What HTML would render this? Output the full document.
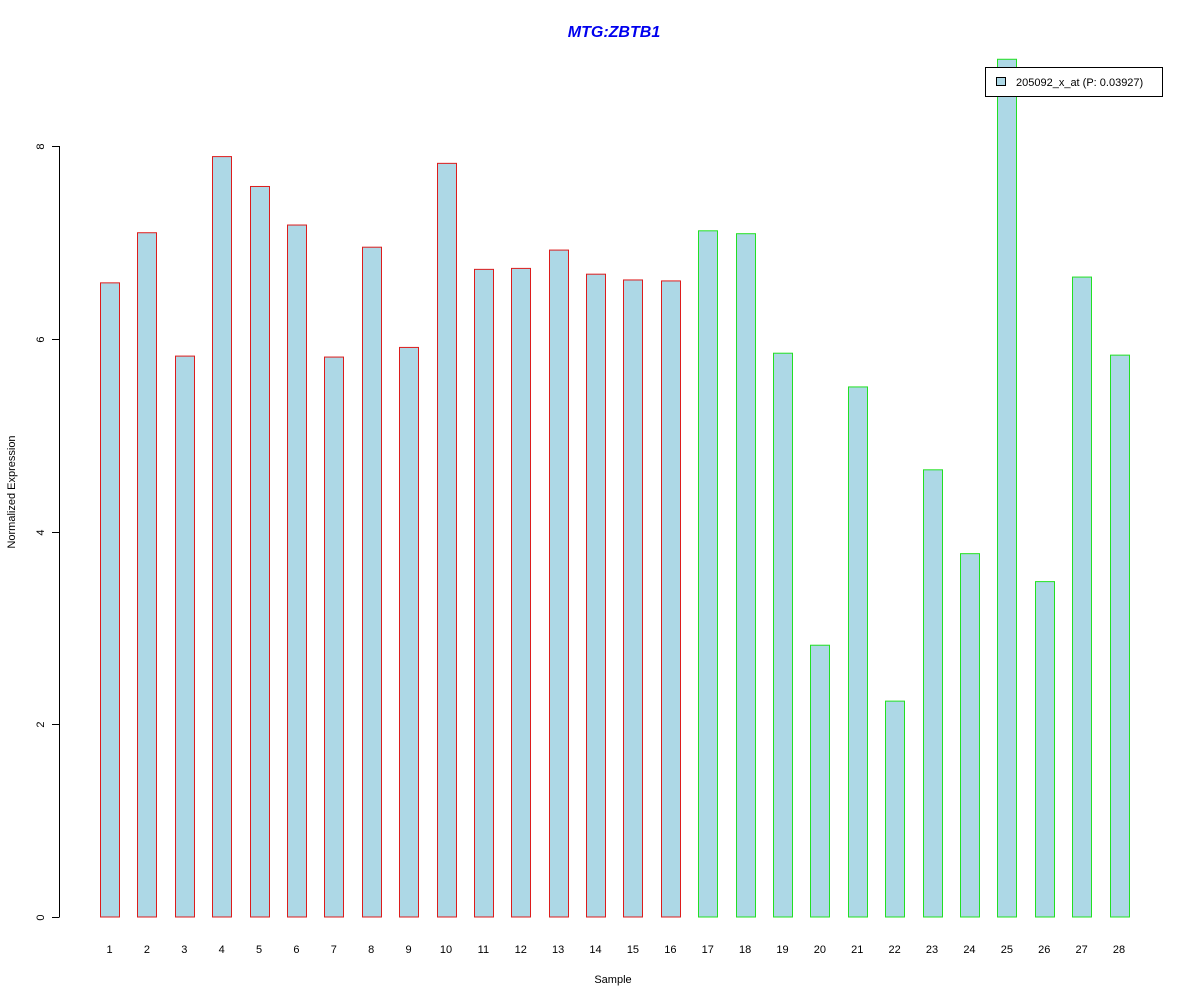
<!DOCTYPE html>
<html><head><meta charset="utf-8"><style>
html,body{margin:0;padding:0;background:#fff;}
svg{display:block;font-family:"Liberation Sans",Arial,sans-serif;}
</style></head><body>
<svg id="chart" width="1200" height="1000" viewBox="0 0 1200 1000">
<text x="614" y="37" text-anchor="middle" font-size="16" font-weight="bold" font-style="italic" fill="#0000ee">MTG:ZBTB1</text>
<text x="0" y="0" transform="translate(15,492) rotate(-90)" text-anchor="middle" font-size="11">Normalized Expression</text>
<text x="613" y="983" text-anchor="middle" font-size="11">Sample</text>
<g id="yaxis"></g>
<g id="bars"></g>
<g id="xlabels"></g>
<g>
<rect x="985.5" y="67.5" width="177" height="29" fill="#fff" stroke="#000"/>
<rect x="996.5" y="77.5" width="9" height="8" fill="#add8e6" stroke="#000"/>
<text x="1016" y="86" font-size="11">205092_x_at (P: 0.03927)</text>
</g>
</svg>
<script>
const categories=["1","2","3","4","5","6","7","8","9","10","11","12","13","14","15","16","17","18","19","20","21","22","23","24","25","26","27","28"];
const values=[6.58,7.10,5.82,7.89,7.58,7.18,5.81,6.95,5.91,7.82,6.72,6.73,6.92,6.67,6.61,6.60,7.12,7.09,5.85,2.82,5.50,2.24,4.64,3.77,8.90,3.48,6.64,5.83];
const groups=["a","a","a","a","a","a","a","a","a","a","a","a","a","a","a","a","b","b","b","b","b","b","b","b","b","b","b","b"];
const yTicks=[0,2,4,6,8];
const NS="http://www.w3.org/2000/svg";
const y0=917,ppu=(917-146)/8;
const yScale=v=>y0-v*ppu;
const xScale=i=>109.5+i*(1119-109.5)/(categories.length-1);
const bw=19;
const ya=document.getElementById('yaxis');
let ln=document.createElementNS(NS,'line');
ln.setAttribute('x1',59.5);ln.setAttribute('x2',59.5);
ln.setAttribute('y1',yScale(yTicks[0]));ln.setAttribute('y2',yScale(yTicks[yTicks.length-1]));
ln.setAttribute('stroke','#000');


ya.appendChild(ln);
yTicks.forEach(t=>{
 const y=Math.round(yScale(t))+0.5;
 const tk=document.createElementNS(NS,'line');
 tk.setAttribute('x1',52);tk.setAttribute('x2',59.5);tk.setAttribute('y1',y);tk.setAttribute('y2',y);tk.setAttribute('stroke','#000');
 
 
 ya.appendChild(tk);
 const tx=document.createElementNS(NS,'text');
 tx.setAttribute('transform','translate(44,'+y+') rotate(-90)');
 tx.setAttribute('text-anchor','middle');tx.setAttribute('font-size','11');
 tx.textContent=t;
 
 
 ya.appendChild(tx);
});
const bg=document.getElementById('bars'),xl=document.getElementById('xlabels');
values.forEach((v,i)=>{
 const r=document.createElementNS(NS,'rect');
 const x=Math.round(xScale(i)-bw/2)+0.5;
 r.setAttribute('x',x);r.setAttribute('y',yScale(v));
 r.setAttribute('width',bw);r.setAttribute('height',yScale(0)-yScale(v));
 r.setAttribute('fill','#add8e6');
 r.setAttribute('stroke',groups[i]==='a'?'#dd1c1c':'#22e022');
 
 
 bg.appendChild(r);
 const t=document.createElementNS(NS,'text');
 t.setAttribute('x',xScale(i));t.setAttribute('y',953);
 t.setAttribute('text-anchor','middle');t.setAttribute('font-size','11');
 t.textContent=categories[i];
 
 
 xl.appendChild(t);
});
</script>
</body></html>
